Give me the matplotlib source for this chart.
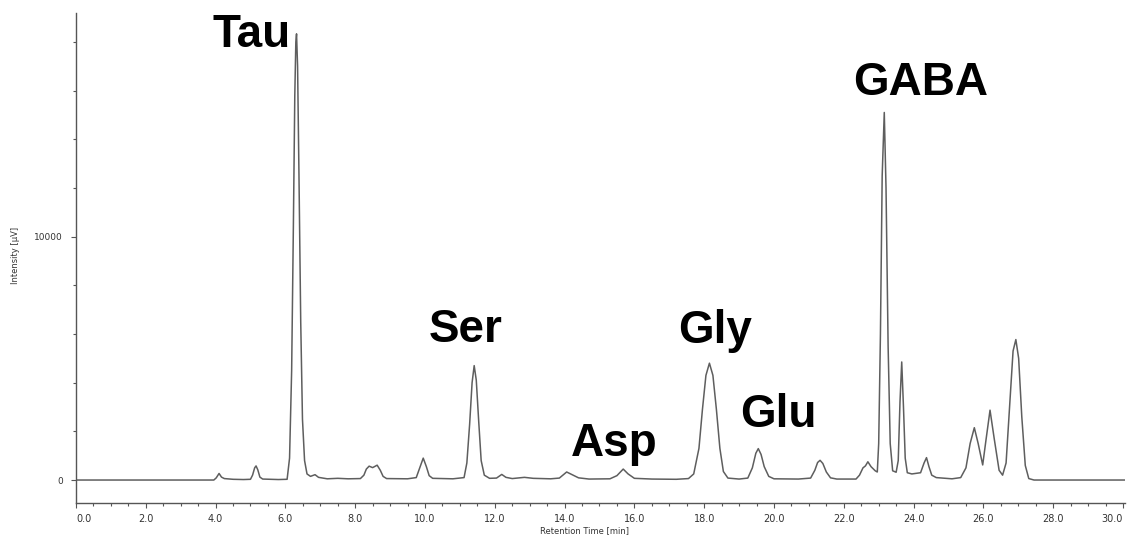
import matplotlib.pyplot as plt
from matplotlib.ticker import MultipleLocator

# traced chromatogram: retention time [min] and intensity [uV]
time = [
    0.0, 3.95, 4.02, 4.10, 4.17, 4.25, 4.5, 4.8, 5.0, 5.06, 5.12, 5.16, 5.21, 5.27, 5.35,
    5.8, 6.05, 6.12, 6.18, 6.23, 6.27, 6.30, 6.32, 6.35, 6.39, 6.44, 6.49, 6.55, 6.62,
    6.72, 6.85, 6.95, 7.2, 7.5, 7.8, 8.15, 8.25, 8.32, 8.40, 8.50, 8.63, 8.72, 8.80, 8.9,
    9.5, 9.75, 9.85, 9.95, 10.04, 10.12, 10.22, 10.8, 11.12, 11.2, 11.28, 11.35, 11.41,
    11.47, 11.54, 11.61, 11.7, 11.85, 12.05, 12.2, 12.32, 12.5, 12.85, 13.1, 13.6, 13.85,
    14.06, 14.2, 14.4, 14.7, 15.3, 15.5, 15.68, 15.82, 16.0, 16.5, 17.2, 17.55, 17.7,
    17.85, 17.95, 18.05, 18.15, 18.25, 18.35, 18.45, 18.55, 18.68, 19.0, 19.25, 19.38,
    19.48, 19.55, 19.63, 19.72, 19.85, 20.0, 20.7, 21.05, 21.17, 21.25, 21.32, 21.40,
    21.50, 21.62, 21.8, 22.35, 22.45, 22.55, 22.62, 22.69, 22.78, 22.9, 22.96, 23.00,
    23.05, 23.10, 23.16, 23.21, 23.27, 23.33, 23.40, 23.50, 23.56, 23.61, 23.66, 23.71,
    23.76, 23.82, 23.95, 24.2, 24.3, 24.37, 24.44, 24.52, 24.65, 25.1, 25.35, 25.5,
    25.62, 25.74, 25.85, 25.98, 26.07, 26.19, 26.31, 26.45, 26.55, 26.65, 26.75, 26.85,
    26.93, 27.01, 27.10, 27.2, 27.3, 27.45, 30.3,
]
intensity = [
    0, 0, 90, 270, 120, 60, 30, 20, 30, 200, 500, 580, 420, 120, 40,
    20, 30, 900, 4500, 10500, 15800, 18000, 18330, 17000, 12500, 6500, 2500, 800, 250,
    150, 220, 110, 50, 70, 50, 60, 200, 450, 570, 510, 610, 400, 150, 60,
    50, 100, 500, 900, 550, 180, 70, 50, 100, 700, 2300, 4000, 4700,
    4100, 2400, 800, 200, 70, 80, 230, 110, 60, 110, 70, 50, 80,
    330, 230, 90, 40, 50, 180, 450, 250, 70, 40, 30, 60, 250,
    1300, 2900, 4300, 4800, 4300, 2900, 1300, 350, 80, 40, 80, 500,
    1100, 1290, 1050, 550, 150, 50, 40, 80, 400, 720, 810, 680,
    330, 90, 40, 40, 200, 500, 580, 750, 550, 380, 330, 1500,
    6000, 12500, 15100, 12000, 5500, 1500, 380, 320, 800, 3200, 4850, 3000,
    900, 300, 250, 300, 700, 920, 550, 200, 100, 50, 100, 500,
    1500, 2150, 1500, 620, 1600, 2870, 1700, 400, 200, 700, 3000, 5300,
    5770, 5000, 2600, 600, 60, 0, 0,
]

# peak names and where they are written (time, intensity of text baseline)
peak_names = ['Tau', 'Ser', 'Asp', 'Gly', 'Glu', 'GABA']
name_time = [5.02, 11.17, 15.42, 18.31, 20.14, 24.21]
name_level = [17800, 5670, 1000, 5630, 2190, 15820]

x_ticks = [0.0, 2.0, 4.0, 6.0, 8.0, 10.0, 12.0, 14.0, 16.0, 18.0, 20.0, 22.0, 24.0,
           26.0, 28.0, 30.0]
y_ticks = [0, 10000]

axis_color = '#555555'
text_color = '#333333'

fig = plt.figure(figsize=(11.27, 5.38), dpi=100)
ax = fig.add_axes([0.0674, 0.065, 0.9306, 0.911])

ax.plot(time, intensity, color='#5e5e5e', lw=1.1)

ax.set_xlim(0, 30.05)
ax.set_ylim(-945, 19190)

for side in ('top', 'right'):
    ax.spines[side].set_visible(False)
for side in ('left', 'bottom'):
    ax.spines[side].set_color(axis_color)
    ax.spines[side].set_linewidth(1.0)

ax.set_xticks(x_ticks)
ax.set_xticklabels([f'{v:.1f}' for v in x_ticks])
ax.xaxis.set_minor_locator(MultipleLocator(0.5))
ax.set_yticks(y_ticks)
ax.set_yticklabels([str(v) for v in y_ticks])
ax.yaxis.set_minor_locator(MultipleLocator(2000))

ax.tick_params(which='major', length=3.6, width=0.8, color=axis_color,
               labelsize=7, labelcolor=text_color, pad=4)
ax.tick_params(which='minor', length=2.4, width=0.8, color=axis_color)
ax.tick_params(axis='y', labelsize=6.5, pad=6)

xlabels = ax.get_xticklabels()
xlabels[0].set_ha('left')
xlabels[-1].set_ha('right')

# axis titles, placed in figure pixels
fig.text(585, 538 - 526, 'Retention Time [min]', transform=None,
         fontsize=6, color=text_color, ha='center', va='top')
fig.text(16, 538 - 255, 'Intensity [µV]', transform=None, rotation=90,
         fontsize=6, color=text_color, ha='center', va='center')

for name, t, level in zip(peak_names, name_time, name_level):
    ax.text(t, level, name, ha='center', va='baseline', fontsize=33,
            fontweight='bold', family=['Liberation Sans', 'DejaVu Sans'])

fig.savefig('out.png', dpi=100)
